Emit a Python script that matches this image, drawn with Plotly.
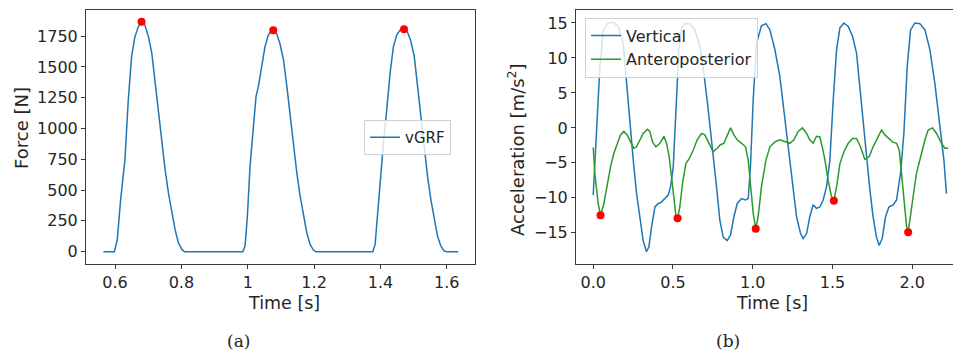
import plotly.graph_objects as go

# ---------------- data: panel (a) vertical ground reaction force ----------------
grf_time = [0.565, 0.598, 0.607, 0.617, 0.630, 0.640, 0.650, 0.660, 0.670, 0.680, 0.690, 0.701,
            0.711, 0.721, 0.731, 0.741, 0.751, 0.761, 0.771, 0.781, 0.791, 0.801, 0.809,
            0.985, 0.992, 0.999, 1.007, 1.017, 1.025, 1.032, 1.042, 1.052, 1.062, 1.072, 1.077,
            1.087, 1.097, 1.108, 1.118, 1.128, 1.138, 1.148, 1.158, 1.168, 1.178, 1.188, 1.198, 1.206,
            1.377, 1.384, 1.391, 1.399, 1.409, 1.419, 1.429, 1.439, 1.449, 1.459, 1.471, 1.481,
            1.491, 1.502, 1.512, 1.522, 1.532, 1.542, 1.552, 1.562, 1.572, 1.582, 1.592, 1.600, 1.634]
grf_force = [0, 0, 100, 423, 747, 1232, 1583, 1744, 1825, 1866, 1839, 1744,
             1610, 1367, 1124, 882, 666, 477, 315, 181, 73, 19, 0,
             0, 46, 288, 693, 1016, 1259, 1340, 1502, 1663, 1758, 1793, 1798,
             1771, 1690, 1556, 1340, 1097, 855, 639, 450, 288, 154, 59, 13, 0,
             0, 59, 288, 612, 882, 1151, 1448, 1663, 1758, 1798, 1806, 1785,
             1717, 1583, 1340, 1070, 828, 612, 423, 262, 127, 46, 5, 0, 0]
grf_peak_time = [0.680, 1.077, 1.471]
grf_peak_force = [1866, 1798, 1806]
grf_xticks = [0.6, 0.8, 1.0, 1.2, 1.4, 1.6]
grf_xticktext = ["0.6", "0.8", "1", "1.2", "1.4", "1.6"]
grf_yticks = [0, 250, 500, 750, 1000, 1250, 1500, 1750]

# ---------------- data: panel (b) accelerations ----------------
vert_time = [0.000, 0.021, 0.042, 0.063, 0.094, 0.125, 0.157, 0.188, 0.209, 0.230, 0.251, 0.272,
             0.293, 0.313, 0.334, 0.349, 0.366, 0.387, 0.408, 0.428, 0.449, 0.470, 0.485, 0.502,
             0.522, 0.537, 0.554, 0.575, 0.606, 0.637, 0.669, 0.694, 0.721, 0.746, 0.773, 0.794,
             0.815, 0.840, 0.861, 0.882, 0.903, 0.930, 0.955, 0.972, 0.986, 1.003, 1.024, 1.055,
             1.083, 1.108, 1.139, 1.170, 1.195, 1.223, 1.248, 1.275, 1.300, 1.317, 1.338, 1.358,
             1.379, 1.400, 1.421, 1.442, 1.463, 1.484, 1.505, 1.526, 1.547, 1.572, 1.599, 1.626,
             1.651, 1.672, 1.693, 1.714, 1.735, 1.755, 1.776, 1.793, 1.812, 1.833, 1.854, 1.881,
             1.902, 1.927, 1.948, 1.969, 1.990, 2.017, 2.048, 2.080, 2.111, 2.142, 2.174, 2.199, 2.215]
vert_acc = [-9.6, -0.8, 8.8, 14.0, 15.0, 15.1, 14.5, 12.1, 6.4, 0.2, -4.6, -9.4,
            -12.7, -16.1, -17.7, -17.0, -14.1, -11.3, -10.8, -10.6, -10.1, -9.6, -8.4, -5.5,
            4.0, 11.2, 14.3, 14.9, 14.9, 14.0, 11.7, 7.8, 2.6, -3.2, -8.4, -13.2,
            -15.6, -16.1, -15.3, -12.7, -10.8, -10.1, -10.3, -10.1, -5.5, 4.0, 12.1, 14.6,
            14.9, 14.0, 11.2, 7.4, 2.6, -3.2, -8.4, -12.7, -15.1, -15.8, -15.1, -12.7,
            -11.0, -11.5, -11.3, -10.3, -8.4, -4.6, 4.0, 11.2, 14.3, 15.0, 14.5, 13.1,
            10.7, 5.9, 0.2, -4.6, -8.9, -12.7, -15.6, -16.8, -15.8, -12.7, -11.3, -11.0,
            -10.3, -6.5, -0.8, 8.8, 14.0, 15.0, 14.9, 14.0, 11.2, 6.4, 0.7, -4.6, -9.4]

ap_time = [0.000, 0.010, 0.031, 0.046, 0.067, 0.088, 0.109, 0.130, 0.150, 0.171, 0.192, 0.213,
           0.234, 0.255, 0.272, 0.293, 0.313, 0.339, 0.355, 0.372, 0.393, 0.418, 0.443, 0.460,
           0.476, 0.491, 0.506, 0.518, 0.529, 0.543, 0.560, 0.581, 0.602, 0.627, 0.652, 0.679,
           0.700, 0.727, 0.752, 0.777, 0.798, 0.819, 0.840, 0.861, 0.882, 0.903, 0.930, 0.955,
           0.972, 0.986, 1.003, 1.019, 1.034, 1.055, 1.083, 1.108, 1.139, 1.170, 1.202, 1.233,
           1.258, 1.285, 1.312, 1.338, 1.358, 1.379, 1.400, 1.421, 1.438, 1.453, 1.473, 1.494,
           1.509, 1.526, 1.547, 1.572, 1.599, 1.626, 1.651, 1.676, 1.703, 1.731, 1.755, 1.780,
           1.808, 1.829, 1.850, 1.877, 1.902, 1.919, 1.933, 1.948, 1.965, 1.975, 1.990, 2.006,
           2.027, 2.052, 2.080, 2.100, 2.128, 2.153, 2.184, 2.205, 2.226]
ap_acc = [-2.8, -6.5, -10.8, -12.5, -10.8, -7.9, -5.5, -3.6, -2.2, -1.0, -0.5, -1.0,
          -2.0, -2.9, -2.7, -1.7, -0.8, -0.2, -0.5, -2.0, -2.7, -2.2, -1.2, -2.2,
          -4.1, -7.0, -10.3, -12.5, -12.9, -11.3, -7.9, -5.1, -4.4, -3.2, -1.7, -0.8,
          -1.0, -2.2, -3.4, -2.9, -2.4, -2.2, -1.2, 0.0, -1.0, -1.7, -2.2, -2.7,
          -4.6, -8.4, -12.2, -14.4, -12.7, -8.4, -4.6, -2.7, -2.0, -1.7, -2.0, -2.2,
          -1.7, -0.5, 0.0, -0.8, -1.7, -2.2, -1.2, -1.3, -2.9, -4.6, -7.5, -9.8,
          -10.4, -8.4, -5.1, -3.4, -2.2, -1.5, -1.5, -2.7, -4.5, -4.1, -2.7, -1.5,
          -0.3, -1.0, -1.5, -2.0, -2.2, -3.2, -6.5, -10.3, -14.1, -14.9, -12.7, -9.8,
          -6.5, -4.1, -1.7, -0.3, 0.0, -0.8, -2.2, -2.9, -2.9]
ap_peak_time = [0.046, 0.529, 1.019, 1.509, 1.975]
ap_peak_acc = [-12.5, -12.9, -14.4, -10.4, -14.9]
acc_xticks = [0.0, 0.5, 1.0, 1.5, 2.0]
acc_xticktext = ["0.0", "0.5", "1.0", "1.5", "2.0"]
acc_yticks = [-15, -10, -5, 0, 5, 10, 15]
acc_yticktext = ["\u221215", "\u221210", "\u22125", "0", "5", "10", "15"]

# ---------------- styling ----------------
W, H = 953, 351
BLUE = "#1f77b4"
GREEN = "#2a9a2a"
RED = "#ff0000"
FONT = "DejaVu Sans"
TXT = "#262626"
FS = 16

fig = go.Figure()
fig.add_trace(go.Scatter(x=grf_time, y=grf_force, mode="lines", name="vGRF",
                         line=dict(color=BLUE, width=1.5), xaxis="x", yaxis="y", legend="legend"))
fig.add_trace(go.Scatter(x=grf_peak_time, y=grf_peak_force, mode="markers", showlegend=False,
                         marker=dict(color=RED, size=8), xaxis="x", yaxis="y"))
fig.add_trace(go.Scatter(x=vert_time, y=vert_acc, mode="lines", name="Vertical",
                         line=dict(color=BLUE, width=1.5), xaxis="x2", yaxis="y2", legend="legend2"))
fig.add_trace(go.Scatter(x=ap_time, y=ap_acc, mode="lines", name="Anteroposterior",
                         line=dict(color=GREEN, width=1.5), xaxis="x2", yaxis="y2", legend="legend2"))
fig.add_trace(go.Scatter(x=ap_peak_time, y=ap_peak_acc, mode="markers", showlegend=False,
                         marker=dict(color=RED, size=8), xaxis="x2", yaxis="y2"))

ydom = [(H - 264) / H, (H - 10) / H]
axis_common = dict(showgrid=False, zeroline=False, showline=True, linecolor="#3a3a3a",
                   linewidth=1, ticks="outside", ticklen=4, tickwidth=1, tickcolor="#3a3a3a",
                   tickfont=dict(family=FONT, size=FS, color=TXT))

fig.update_layout(
    width=W, height=H, margin=dict(l=0, r=0, t=0, b=0),
    paper_bgcolor="white", plot_bgcolor="white",
    font=dict(family=FONT, size=FS, color=TXT),
    xaxis=dict(domain=[86 / W, 475 / W], range=[0.5126, 1.685], anchor="y", mirror=True,
               tickvals=grf_xticks, ticktext=grf_xticktext, **axis_common),
    yaxis=dict(domain=ydom, range=[-100, 1962], anchor="x", mirror=True,
               tickvals=grf_yticks, **axis_common),
    xaxis2=dict(domain=[576 / W, 1.0], range=[-0.108, 2.256], anchor="y2", mirror=True,
                tickvals=acc_xticks, ticktext=acc_xticktext, **axis_common),
    yaxis2=dict(domain=ydom, range=[-19.45, 16.85], anchor="x2", mirror=False,
                tickvals=acc_yticks, ticktext=acc_yticktext, **axis_common),
    legend=dict(x=364 / W, y=(H - 137.5) / H, xanchor="left", yanchor="middle",
                bgcolor="rgba(255,255,255,0.8)", bordercolor="#d0d0d0", borderwidth=1,
                font=dict(family=FONT, size=15, color=TXT), itemwidth=30),
    legend2=dict(x=585 / W, y=(H - 47.5) / H, xanchor="left", yanchor="middle",
                 bgcolor="rgba(255,255,255,0.8)", bordercolor="#d0d0d0", borderwidth=1,
                 font=dict(family=FONT, size=16, color=TXT), itemwidth=30, tracegroupgap=0),
    showlegend=True,
)

ann = [
    dict(text="Time [s]", x=284 / W, y=(H - 303) / H, font=dict(size=17.5)),
    dict(text="Time [s]", x=771.5 / W, y=(H - 303) / H, font=dict(size=17.5)),
    dict(text="Force [N]", x=22 / W, y=(H - 128) / H, textangle=-90, font=dict(size=18)),
    dict(text="Acceleration [m/s<sup>2</sup>]", x=516 / W, y=(H - 150) / H, textangle=-90,
         font=dict(size=18)),
    dict(text="(a)", x=238 / W, y=(H - 340.5) / H, font=dict(family="DejaVu Serif", size=17, color="#222")),
    dict(text="(b)", x=728 / W, y=(H - 340.5) / H, font=dict(family="DejaVu Serif", size=17, color="#222")),
]
for a in ann:
    a.update(xref="paper", yref="paper", showarrow=False, xanchor="center", yanchor="middle")
    fig.add_annotation(**a)

fig.write_html("out.html", config={"displayModeBar": False},
               post_script="document.body.style.margin='0';document.body.style.overflow='hidden';")
